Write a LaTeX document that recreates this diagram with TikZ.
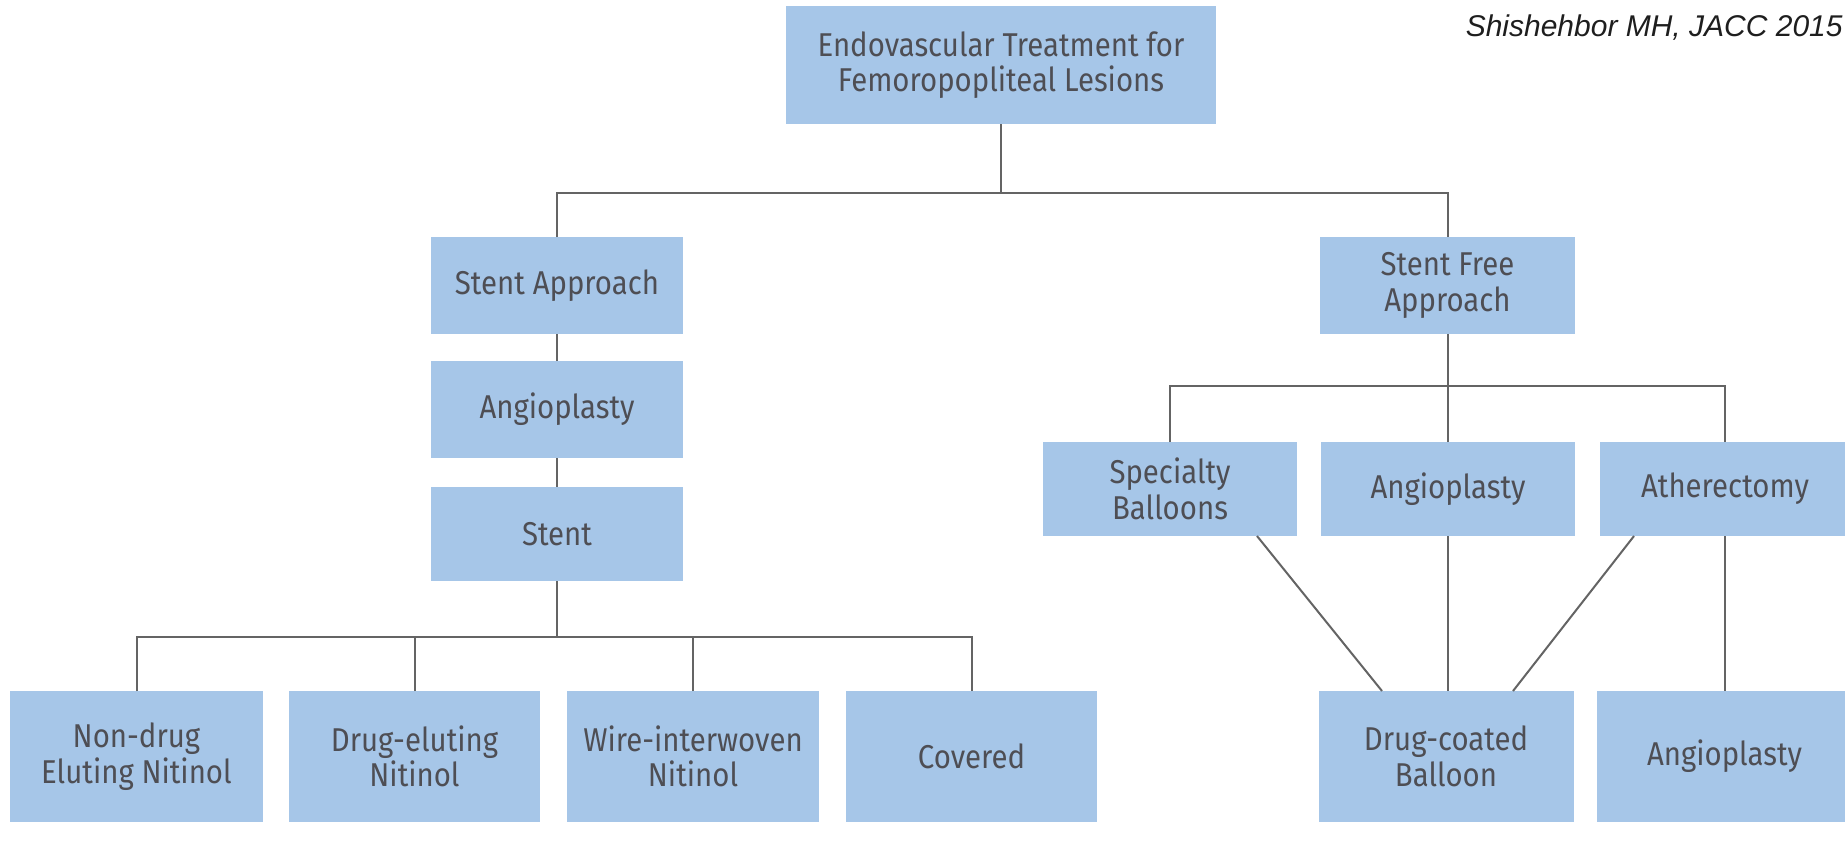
\documentclass[tikz,border=0pt]{standalone}
\usepackage{fontspec}
\setmainfont[FakeStretch=0.89]{Fira Sans}
\newfontfamily\citefont{Liberation Sans}
\definecolor{boxblue}{RGB}{166,198,232}
\definecolor{boxtext}{RGB}{78,78,84}
\definecolor{linkgray}{RGB}{100,100,100}

\begin{document}
\begin{tikzpicture}[
    x=0.5pt, y=-0.5pt,
    mybox/.style={rectangle, fill=boxblue, draw=none, inner sep=0pt, outer sep=0pt,
        align=center, text=boxtext, font=\fontsize{16.5}{17.8}\selectfont},
    link/.style={draw=linkgray, line width=1pt}
]
    \useasboundingbox (0,0) rectangle (1845,843);

    % root and first split
    \node[mybox, minimum width=215pt, minimum height=59pt] (root) at (1001,65)
        {Endovascular Treatment for\\Femoropopliteal Lesions};
    \node[mybox, minimum width=126pt, minimum height=48.5pt] (stapp) at (557,285.5) {Stent Approach};
    \node[mybox, minimum width=127.5pt, minimum height=48.5pt] (freeapp) at (1447.5,285.5) {Stent Free\\Approach};

    % stent branch
    \node[mybox, minimum width=126pt, minimum height=48.5pt] (angleft) at (557,409.5) {Angioplasty};
    \node[mybox, minimum width=126pt, minimum height=47pt] (stent) at (557,534) {Stent};
    \node[mybox, minimum width=126.5pt, minimum height=65.5pt] (nondrug) at (136.5,756.5) {Non-drug\\Eluting Nitinol};
    \node[mybox, minimum width=125.5pt, minimum height=65.5pt] (drugelut) at (414.5,756.5) {Drug-eluting\\Nitinol};
    \node[mybox, minimum width=126pt, minimum height=65.5pt] (wire) at (693,756.5) {Wire-interwoven\\Nitinol};
    \node[mybox, minimum width=125.5pt, minimum height=65.5pt] (covered) at (971.5,756.5) {Covered};

    % stent free branch
    \node[mybox, minimum width=127pt, minimum height=47pt] (special) at (1170,489) {Specialty\\Balloons};
    \node[mybox, minimum width=127pt, minimum height=47pt] (angmid) at (1448,489) {Angioplasty};
    \node[mybox, minimum width=125pt, minimum height=47pt] (ather) at (1725,489) {Atherectomy};
    \node[mybox, minimum width=127.5pt, minimum height=65.5pt] (dcb) at (1446,756.5) {Drug-coated\\Balloon};
    \node[mybox, minimum width=127.5pt, minimum height=65.5pt] (angright) at (1724.5,756.5) {Angioplasty};

    \node[anchor=base east, inner sep=0pt, text={rgb,255:red,30;green,30;blue,30},
        font=\citefont\itshape\fontsize{15}{18}\selectfont] (cite) at (1843,36) {Shishehbor MH, JACC 2015};

    % connectors
    \coordinate (j1) at (1001,193);
    \coordinate (j2) at (557,637);
    \coordinate (j3) at (1447.5,386);

    \draw[link] (root.south) -- (j1);
    \draw[link] (stapp.north) |- (j1) -| (freeapp.north);

    \draw[link] (stapp) -- (angleft);
    \draw[link] (angleft) -- (stent);
    \draw[link] (stent.south) -- (j2);
    \draw[link] (nondrug.north) |- (j2) -| (covered.north);
    \draw[link] (drugelut.north) -- (drugelut.north |- j2);
    \draw[link] (wire.north) -- (wire.north |- j2);

    \draw[link] (freeapp.south) -- (j3);
    \draw[link] (special.north) |- (j3) -| (ather.north);
    \draw[link] (angmid.north) -- (angmid.north |- j3);

    \draw[link] ([xshift=-20pt]special.south east) -- ([xshift=-32pt]dcb.north);
    \draw[link] (angmid.south) -- (angmid.south |- dcb.north);
    \draw[link] ([xshift=17pt]ather.south west) -- ([xshift=33.5pt]dcb.north);
    \draw[link] (ather.south) -- (ather.south |- angright.north);
\end{tikzpicture}
\end{document}
